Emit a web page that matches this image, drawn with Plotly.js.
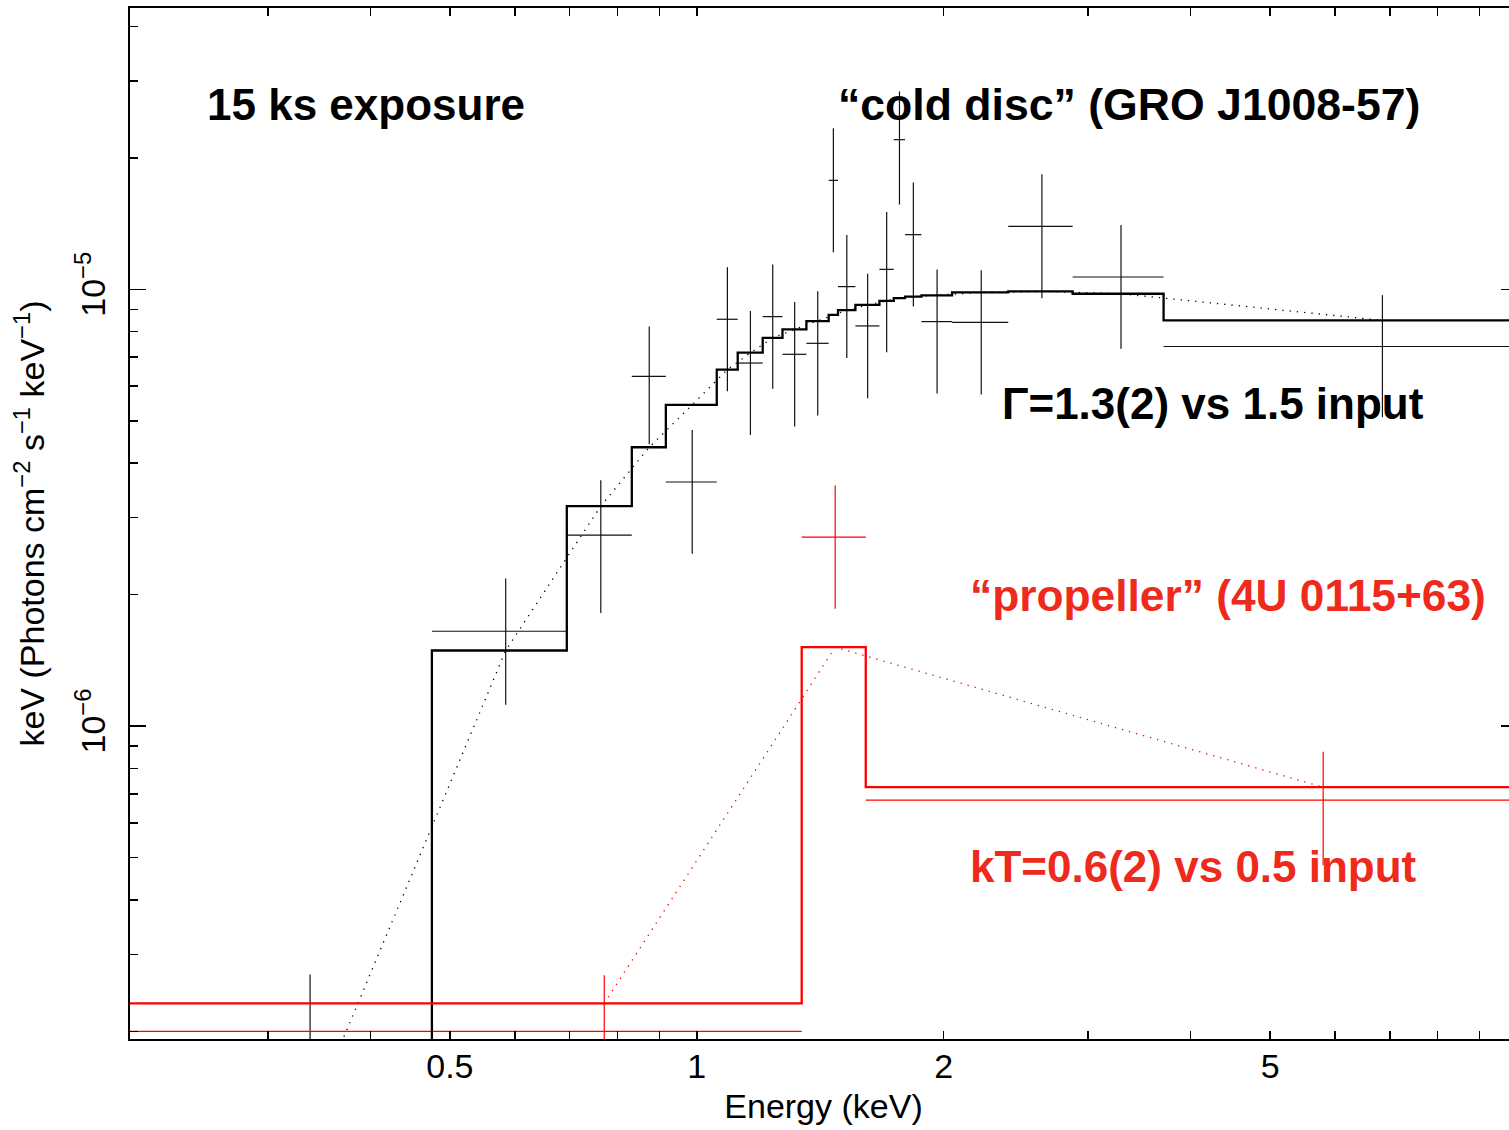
<!DOCTYPE html>
<html><head><meta charset="utf-8">
<script src="https://cdn.plot.ly/plotly-3.0.1.min.js"></script>
<style>html,body{margin:0;padding:0;overflow:hidden;background:#fff}#chart{width:1517px;height:1130px}</style>
</head><body><div id="chart"></div>
<script>
// ---- data ----
// "cold disc" (GRO J1008-57) spectrum, black
const blackBinEdges = [0.2, 0.4754, 0.6943, 0.8333, 0.9168, 1.0577, 1.1218, 1.2033, 1.2720, 1.3604, 1.4482,
  1.4865, 1.5610, 1.6699, 1.7385, 1.7945, 1.8790, 2.0474, 2.3972, 2.8725, 3.7078, 10.0];
const blackFlux = [1.5e-7, 1.649e-6, 2.736e-6, 6.32e-6, 3.622e-6, 8.54e-6, 6.78e-6, 8.66e-6, 7.10e-6, 7.523e-6,
  1.776e-5, 1.0144e-5, 8.245e-6, 1.111e-5, 2.201e-5, 1.334e-5, 8.435e-6, 8.405e-6, 1.394e-5, 1.067e-5, 7.397e-6];
const blackFluxErr = [1.2e-7, 0.53e-6, 0.92e-6, 1.9e-6, 1.14e-6, 2.7e-6, 2.14e-6, 2.74e-6, 2.25e-6, 2.38e-6,
  5.6e-6, 3.18e-6, 2.61e-6, 3.93e-6, 6.37e-6, 4.21e-6, 2.66e-6, 2.66e-6, 4.4e-6, 3.36e-6, 2.3e-6];
const blackModel = [1.27e-7, 1.49e-6, 3.19e-6, 4.35e-6, 5.44e-6, 6.55e-6, 7.16e-6, 7.74e-6, 8.10e-6, 8.46e-6,
  8.74e-6, 8.96e-6, 9.21e-6, 9.41e-6, 9.55e-6, 9.62e-6, 9.69e-6, 9.84e-6, 9.89e-6, 9.77e-6, 8.49e-6];
// "propeller" (4U 0115+63) spectrum, red
const redBinEdges = [0.2, 1.3425, 1.607, 10.0];
const redFlux = [2.0e-7, 2.707e-6, 6.77e-7];
const redFluxErr = [0.69e-7, 0.85e-6, 1.97e-7];
const redModel = [2.32e-7, 1.516e-6, 7.25e-7];
// axis ticks
const xTickVals = [0.5, 1, 2, 5];
const xTickText = ['0.5', '1', '2', '5'];
const xMajorLongTicks = [1];
const xMinorVals = [0.3, 0.4, 0.6, 0.7, 0.8, 0.9, 3, 4, 6, 7, 8, 9];
const yTickVals = [1e-6, 1e-5];
const yTickText = ['10<sup>\u22126</sup>', '10<sup>\u22125</sup>'];
const yMinorVals = [2e-7, 3e-7, 4e-7, 5e-7, 6e-7, 7e-7, 8e-7, 9e-7, 2e-6, 3e-6, 4e-6, 5e-6, 6e-6, 7e-6, 8e-6, 9e-6, 2e-5, 3e-5, 4e-5];
const xRange = [0.2037, 10.0];
const yRange = [1.922e-7, 4.406e-5];

// ---- helpers ----
const centers = e => e.slice(0, -1).map((lo, i) => (lo + e[i + 1]) / 2);
const halfWidths = e => e.slice(0, -1).map((lo, i) => (e[i + 1] - lo) / 2);
const stepY = m => m.concat([m[m.length - 1]]);

const FONT = 'Liberation Sans, Arial, Helvetica, sans-serif';
const RED = '#ff0000';
const TEXTRED = '#ee2a1c';

function dataTrace(edges, flux, err, color, w) {
  return {
    type: 'scatter', mode: 'markers', x: centers(edges), y: flux,
    marker: {size: 0.1, color: 'rgba(0,0,0,0)'},
    error_x: {type: 'data', array: halfWidths(edges), symmetric: true, color: color, thickness: w, width: 0},
    error_y: {type: 'data', array: err, symmetric: true, color: color, thickness: w, width: 0},
    hoverinfo: 'skip'
  };
}
function stepTrace(edges, model, color) {
  return {type: 'scatter', mode: 'lines', x: edges, y: stepY(model),
    line: {shape: 'hv', color: color, width: 2.3}, hoverinfo: 'skip'};
}
function dotTrace(edges, model, color) {
  return {type: 'scatter', mode: 'lines', x: centers(edges), y: model,
    line: {color: color, width: 1.3, dash: '1.3px,6px'}, hoverinfo: 'skip'};
}

const traces = [
  dotTrace(blackBinEdges, blackModel, '#000'),
  dotTrace(redBinEdges, redModel, RED),
  dataTrace(blackBinEdges, blackFlux, blackFluxErr, '#111', 1.2),
  dataTrace(redBinEdges, redFlux, redFluxErr, RED, 1.2),
  stepTrace(blackBinEdges, blackModel, '#000'),
  stepTrace(redBinEdges, redModel, RED)
];

const tickCommon = {ticks: 'inside', tickwidth: 1.5, tickcolor: '#000', showgrid: false, zeroline: false};

const layout = {
  width: 1517, height: 1130,
  margin: {l: 130, r: 0, t: 8, b: 91, pad: 0},
  paper_bgcolor: '#fff', plot_bgcolor: '#fff', showlegend: false,
  font: {family: FONT, color: '#000'},
  xaxis: Object.assign({}, tickCommon, {
    type: 'log', range: xRange.map(Math.log10), automargin: false,
    tickmode: 'array', tickvals: xTickVals, ticktext: xTickText, ticklen: 8,
    showline: true, linewidth: 2, linecolor: '#000', mirror: 'ticks',
    tickfont: {family: FONT, size: 34, color: '#000'}, ticklabelstandoff: -4,
    title: {text: 'Energy (keV)', font: {family: FONT, size: 34, color: '#000'}, standoff: 10},
    minor: {tickmode: 'array', tickvals: xMinorVals, ticks: 'inside', ticklen: 8, tickwidth: 1.5, tickcolor: '#000', showgrid: false}
  }),
  xaxis2: Object.assign({}, tickCommon, {
    type: 'log', range: xRange.map(Math.log10), overlaying: 'x', anchor: 'y', side: 'bottom',
    tickmode: 'array', tickvals: xMajorLongTicks, ticklen: 16, showticklabels: false,
    showline: false, mirror: 'ticks'
  }),
  yaxis: Object.assign({}, tickCommon, {
    type: 'log', range: yRange.map(Math.log10), automargin: false,
    tickmode: 'array', tickvals: yTickVals, ticktext: yTickText, ticklen: 16, tickangle: -90,
    showline: true, linewidth: 2, linecolor: '#000', mirror: 'ticks',
    tickfont: {family: FONT, size: 34, color: '#000'}, ticklabelstandoff: 9,
    title: {text: 'keV (Photons cm<sup>\u22122</sup> s<sup>\u22121</sup> keV<sup>\u22121</sup>)', font: {family: FONT, size: 34, color: '#000'}, standoff: 14},
    minor: {tickmode: 'array', tickvals: yMinorVals, ticks: 'inside', ticklen: 8, tickwidth: 1.5, tickcolor: '#000', showgrid: false}
  }),
  annotations: [
    {text: '15 ks exposure', xref: 'paper', yref: 'paper', x: 0.0544, y: 0.9065, xanchor: 'left', yanchor: 'middle', showarrow: false,
      font: {family: FONT, size: 44, color: '#000', weight: 'bold'}},
    {text: '\u201ccold disc\u201d (GRO J1008-57)', xref: 'paper', yref: 'paper', x: 0.5088, y: 0.9065, xanchor: 'left', yanchor: 'middle', showarrow: false,
      font: {family: FONT, size: 44.6, color: '#000', weight: 'bold'}},
    {text: '\u0393=1.3(2) vs 1.5 input', xref: 'paper', yref: 'paper', x: 0.6270, y: 0.6166, xanchor: 'left', yanchor: 'middle', showarrow: false,
      font: {family: FONT, size: 44, color: '#000', weight: 'bold'}},
    {text: '\u201cpropeller\u201d (4U 0115+63)', xref: 'paper', yref: 'paper', x: 0.6040, y: 0.4304, xanchor: 'left', yanchor: 'middle', showarrow: false,
      font: {family: FONT, size: 44.3, color: TEXTRED, weight: 'bold'}},
    {text: 'kT=0.6(2) vs 0.5 input', xref: 'paper', yref: 'paper', x: 0.6040, y: 0.1677, xanchor: 'left', yanchor: 'middle', showarrow: false,
      font: {family: FONT, size: 44, color: TEXTRED, weight: 'bold'}}
  ]
};

Plotly.newPlot('chart', traces, layout, {staticPlot: true, displayModeBar: false});
</script>
</body></html>
